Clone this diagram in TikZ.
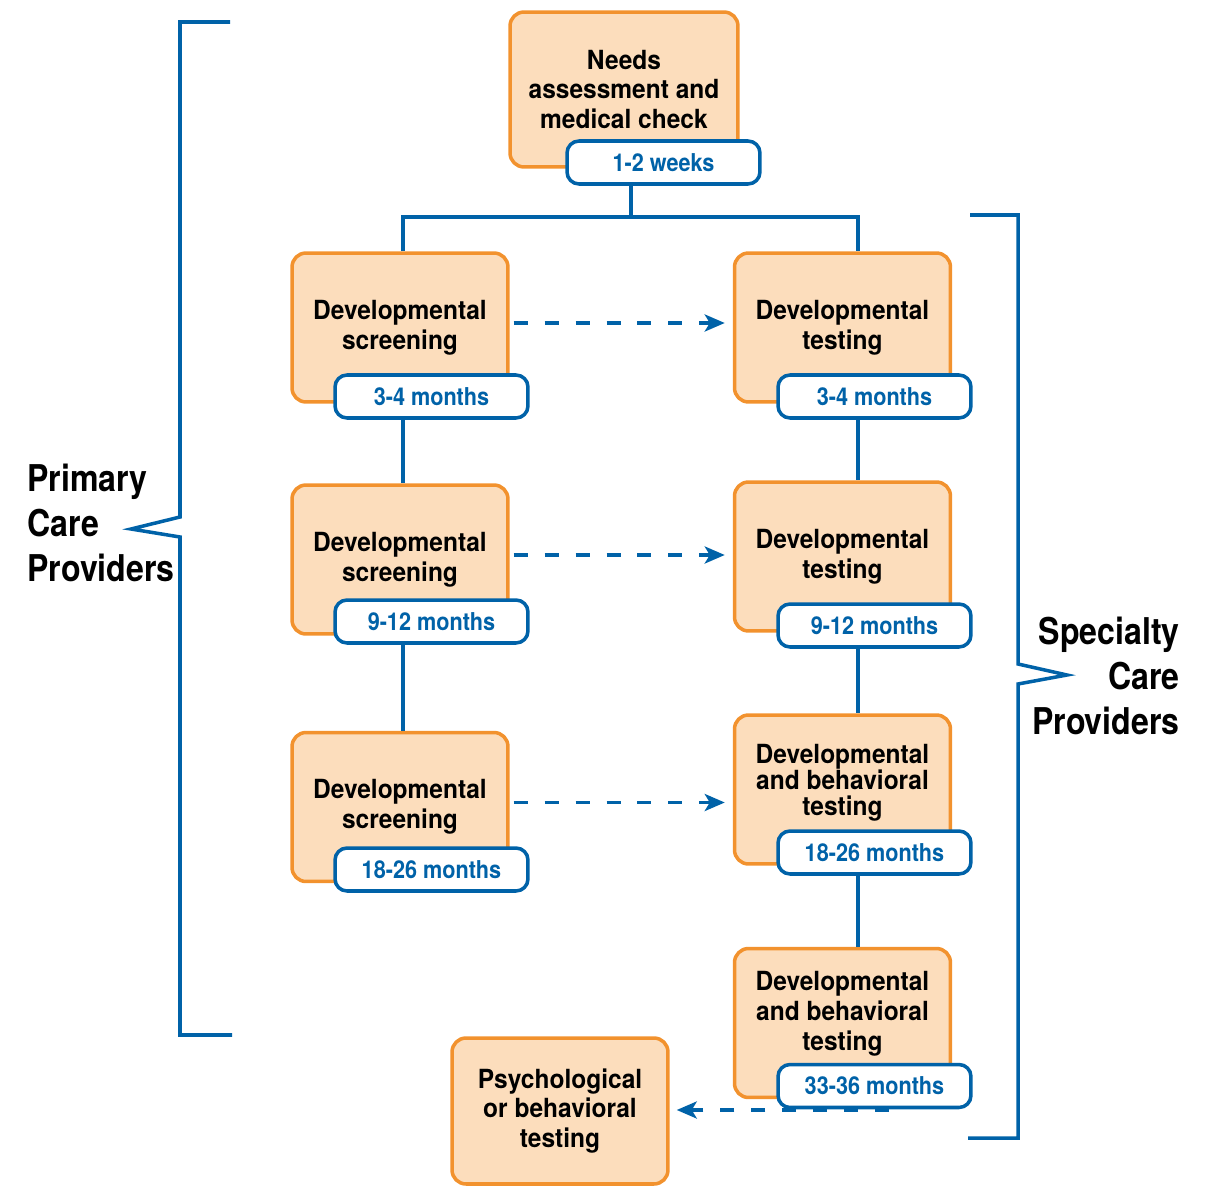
\documentclass[tikz,border=0pt]{standalone}
\usepackage{fontspec}
\newfontfamily\stagefont{TeX Gyre Heros}[FakeStretch=0.93]
\newfontfamily\agefont{TeX Gyre Heros}[FakeStretch=0.88]
\newfontfamily\whofont{TeX Gyre Heros}[FakeStretch=0.87]
\usetikzlibrary{arrows.meta}
\definecolor{pcblue}{HTML}{0062A8}
\definecolor{pcorange}{HTML}{F2922E}
\definecolor{pcfill}{HTML}{FCDDBC}

\begin{document}
\begin{tikzpicture}[x=0.02cm,y=-0.02cm,
    stage/.style={draw=pcorange,fill=pcfill,line width=2pt,rounded corners=0.28cm,
      minimum width=4.32cm,minimum height=2.98cm,align=center,inner sep=0pt,
      font=\stagefont\bfseries\fontsize{15}{17}\selectfont},
    age/.style={draw=pcblue,fill=white,line width=2pt,rounded corners=0.24cm,
      minimum width=3.86cm,minimum height=0.86cm,inner sep=0pt,text=pcblue,
      font=\agefont\bfseries\fontsize{14}{16}\selectfont},
    tree/.style={draw=pcblue,line width=2pt},
    refer/.style={tree,dash pattern=on 8pt off 9.6pt,shorten <=0.08cm,shorten >=0.16cm,
      -{Stealth[length=0.4cm,width=0.34cm,inset=0.1cm]}},
    who/.style={inner sep=0pt,font=\whofont\bfseries\fontsize{21}{25.5}\selectfont}]
\useasboundingbox (0,0) rectangle (1218,1186);

\node[stage,minimum width=4.56cm,minimum height=3.1cm] (needs) at (624,89.5)
    {Needs\\assessment and\\medical check};
\node[age] (needsage) at (663.5,162.5) {1-2 weeks};

\node[stage] (scr1)    at (400,327.5) {Developmental\\screening};
\node[age]   (scr1age) at (431.5,396.5) {3-4 months};
\node[stage] (scr2)    at (400,559.5) {Developmental\\screening};
\node[age]   (scr2age) at (431.5,621.5) {9-12 months};
\node[stage] (scr3)    at (400,807) {Developmental\\screening};
\node[age]   (scr3age) at (431.5,869.5) {18-26 months};

\node[stage] (tst1)    at (842.5,327.5) {Developmental\\testing};
\node[age]   (tst1age) at (874.5,396.5) {3-4 months};
\node[stage] (tst2)    at (842.5,556.5) {Developmental\\testing};
\node[age]   (tst2age) at (874.5,625.5) {9-12 months};
\node[stage,text depth=11pt] (tst3) at (842.5,789.5)
    {Developmental\\[-2.3pt]and behavioral\\[-2.3pt]testing};
\node[age]   (tst3age) at (874.5,852.5) {18-26 months};
\node[stage,text depth=14pt] (tst4) at (842.5,1023)
    {Developmental\\and behavioral\\testing};
\node[age]   (tst4age) at (874.5,1086) {33-36 months};

\node[stage,minimum height=2.92cm] (psy) at (560,1111)
    {Psychological\\or behavioral\\testing};

\coordinate (lcol) at (403,0);
\coordinate (rcol) at (858,0);
\coordinate (fork) at (631,217);
\coordinate (back) at (889,1110);

\draw[tree] (fork |- needsage.south) -- (fork);
\draw[tree] (lcol |- scr1.north) |- (fork) -| (rcol |- tst1.north);
\draw[tree] (lcol |- scr1age.south) -- (lcol |- scr2.north);
\draw[tree] (lcol |- scr2age.south) -- (lcol |- scr3.north);
\draw[tree] (rcol |- tst1age.south) -- (rcol |- tst2.north);
\draw[tree] (rcol |- tst2age.south) -- (rcol |- tst3.north);
\draw[tree] (rcol |- tst3age.south) -- (rcol |- tst4.north);

\draw[refer] ([yshift=0.09cm]scr1.east) -- ([yshift=0.09cm]scr1.east -| tst1.west);
\draw[refer] ([yshift=0.09cm]scr2.east) -- ([yshift=0.09cm]scr2.east -| tst2.west);
\draw[refer] ([yshift=0.09cm]scr3.east) -- ([yshift=0.09cm]scr3.east -| tst3.west);
\draw[refer,shorten <=0pt,shorten >=0.14cm] (back) -- (back -| psy.east);

\draw[tree]
    (230,22) -- (180,22) -- (180,517) -- (131,529) -- (180,537)
    -- (180,1035) -- (232,1035);
\draw[tree]
    (970,215) -- (1018,215) -- (1018,664) -- (1067,675) -- (1018,684)
    -- (1018,1138) -- (968,1138);

\node[who,align=left,anchor=west]  (primary)   at (27,523)   {Primary\\Care\\Providers};
\node[who,align=right,anchor=east] (specialty) at (1180,676) {Specialty\\Care\\Providers};
\end{tikzpicture}
\end{document}
